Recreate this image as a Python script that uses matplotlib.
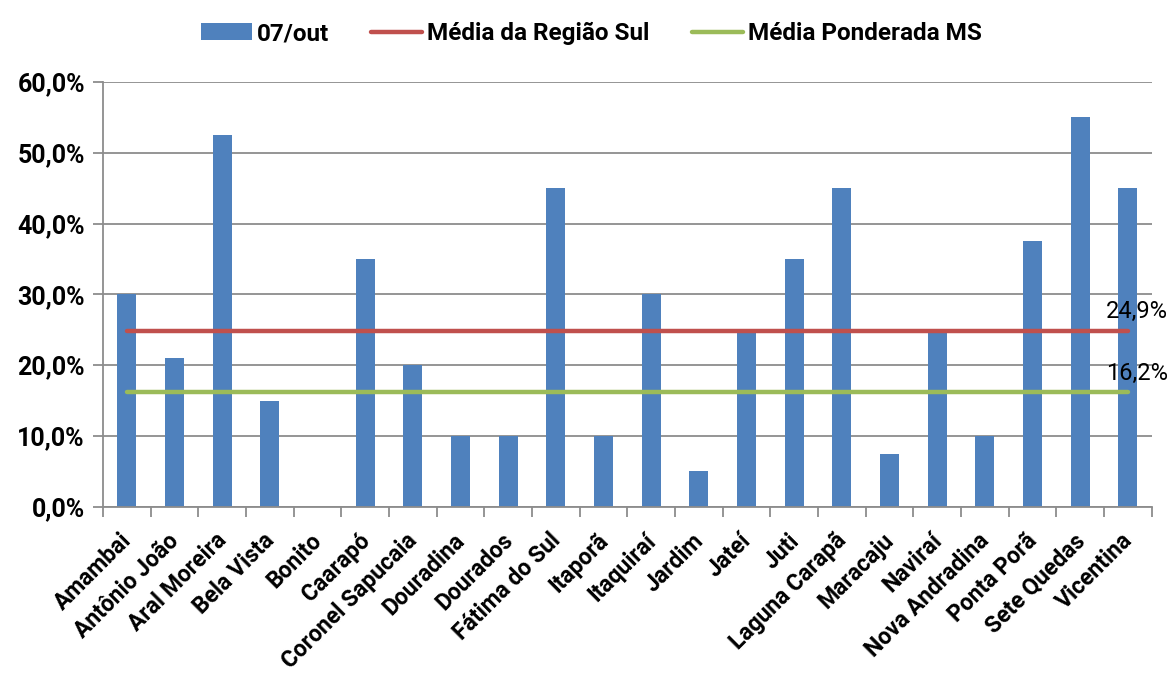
import numpy as np
import matplotlib.pyplot as plt
import matplotlib.transforms as mtransforms
from matplotlib.ticker import FuncFormatter, FixedLocator

municipios = ['Amambai', 'Antônio João', 'Aral Moreira', 'Bela Vista', 'Bonito', 'Caarapó',
              'Coronel Sapucaia', 'Douradina', 'Dourados', 'Fátima do Sul', 'Itaporã',
              'Itaquiraí', 'Jardim', 'Jateí', 'Juti', 'Laguna Carapã', 'Maracaju',
              'Naviraí', 'Nova Andradina', 'Ponta Porã', 'Sete Quedas', 'Vicentina']
valores = [30.0, 21.0, 52.5, 15.0, 0.0, 35.0, 20.0, 10.0, 10.0, 45.0, 10.0,
           30.0, 5.0, 25.0, 35.0, 45.0, 7.5, 25.0, 10.0, 37.5, 55.0, 45.0]
media_sul = 24.9
media_ms = 16.2

plt.rcParams['font.family'] = ['Roboto', 'DejaVu Sans']

fig = plt.figure(figsize=(11.73, 6.73), dpi=100)
ax = fig.add_axes([0.0878, 0.247, 0.894, 0.631])

x = np.arange(len(municipios))
barras = ax.bar(x, valores, width=0.4, color='#4F81BD', label='07/out', zorder=2)
l1, = ax.plot([x[0], x[-1]], [media_sul] * 2, color='#C0504D', lw=3.2,
              solid_capstyle='round', label='Média da Região Sul', zorder=3)
l2, = ax.plot([x[0], x[-1]], [media_ms] * 2, color='#9BBB59', lw=3.2,
              solid_capstyle='round', label='Média Ponderada MS', zorder=3)

ax.text(x[-1] + 0.2, media_sul + 1.0, f'{media_sul:.1f}%'.replace('.', ','),
        ha='center', va='bottom', fontsize=17)
ax.text(x[-1] + 0.2, media_ms + 1.0, f'{media_ms:.1f}%'.replace('.', ','),
        ha='center', va='bottom', fontsize=17)

ax.set_xlim(-0.5, len(municipios) - 0.5)
ax.set_ylim(0, 60)
ax.set_yticks(np.arange(0, 61, 10))
ax.yaxis.set_major_formatter(FuncFormatter(lambda v, p: f'{v:.1f}%'.replace('.', ',')))
ax.grid(axis='y', color='#8C8C8C', lw=1.3, zorder=0)

ax.set_xticks(x)
ax.set_xticklabels(municipios, rotation=45, ha='right', rotation_mode='anchor',
                   fontsize=16.5, fontweight='bold')
ax.tick_params(axis='x', length=0, pad=16)
desloc = mtransforms.ScaledTranslation(-7 / 100, 0, fig.dpi_scale_trans)
for lbl in ax.get_xticklabels():
    lbl.set_transform(lbl.get_transform() + desloc)
ax.xaxis.set_minor_locator(FixedLocator(np.arange(-0.5, len(municipios), 1)))
ax.tick_params(axis='x', which='minor', length=7, color='#8C8C8C', width=1.3)
ax.tick_params(axis='y', length=7, color='#8C8C8C', width=1.3, labelsize=18, pad=6)
for lbl in ax.get_yticklabels():
    lbl.set_fontweight('bold')

for s in ['top', 'right']:
    ax.spines[s].set_visible(False)
for s in ['left', 'bottom']:
    ax.spines[s].set_color('#8C8C8C')
    ax.spines[s].set_linewidth(1.3)

fig.legend([barras, l1, l2], ['07/out', 'Média da Região Sul', 'Média Ponderada MS'],
           loc='upper center', bbox_to_anchor=(0.504, 1.0), ncol=3, frameon=False,
           prop={'size': 17.5, 'weight': 'bold'}, handlelength=2.1, handleheight=0.65,
           handletextpad=0.2, columnspacing=1.75)

fig.savefig('out.png', dpi=100)
